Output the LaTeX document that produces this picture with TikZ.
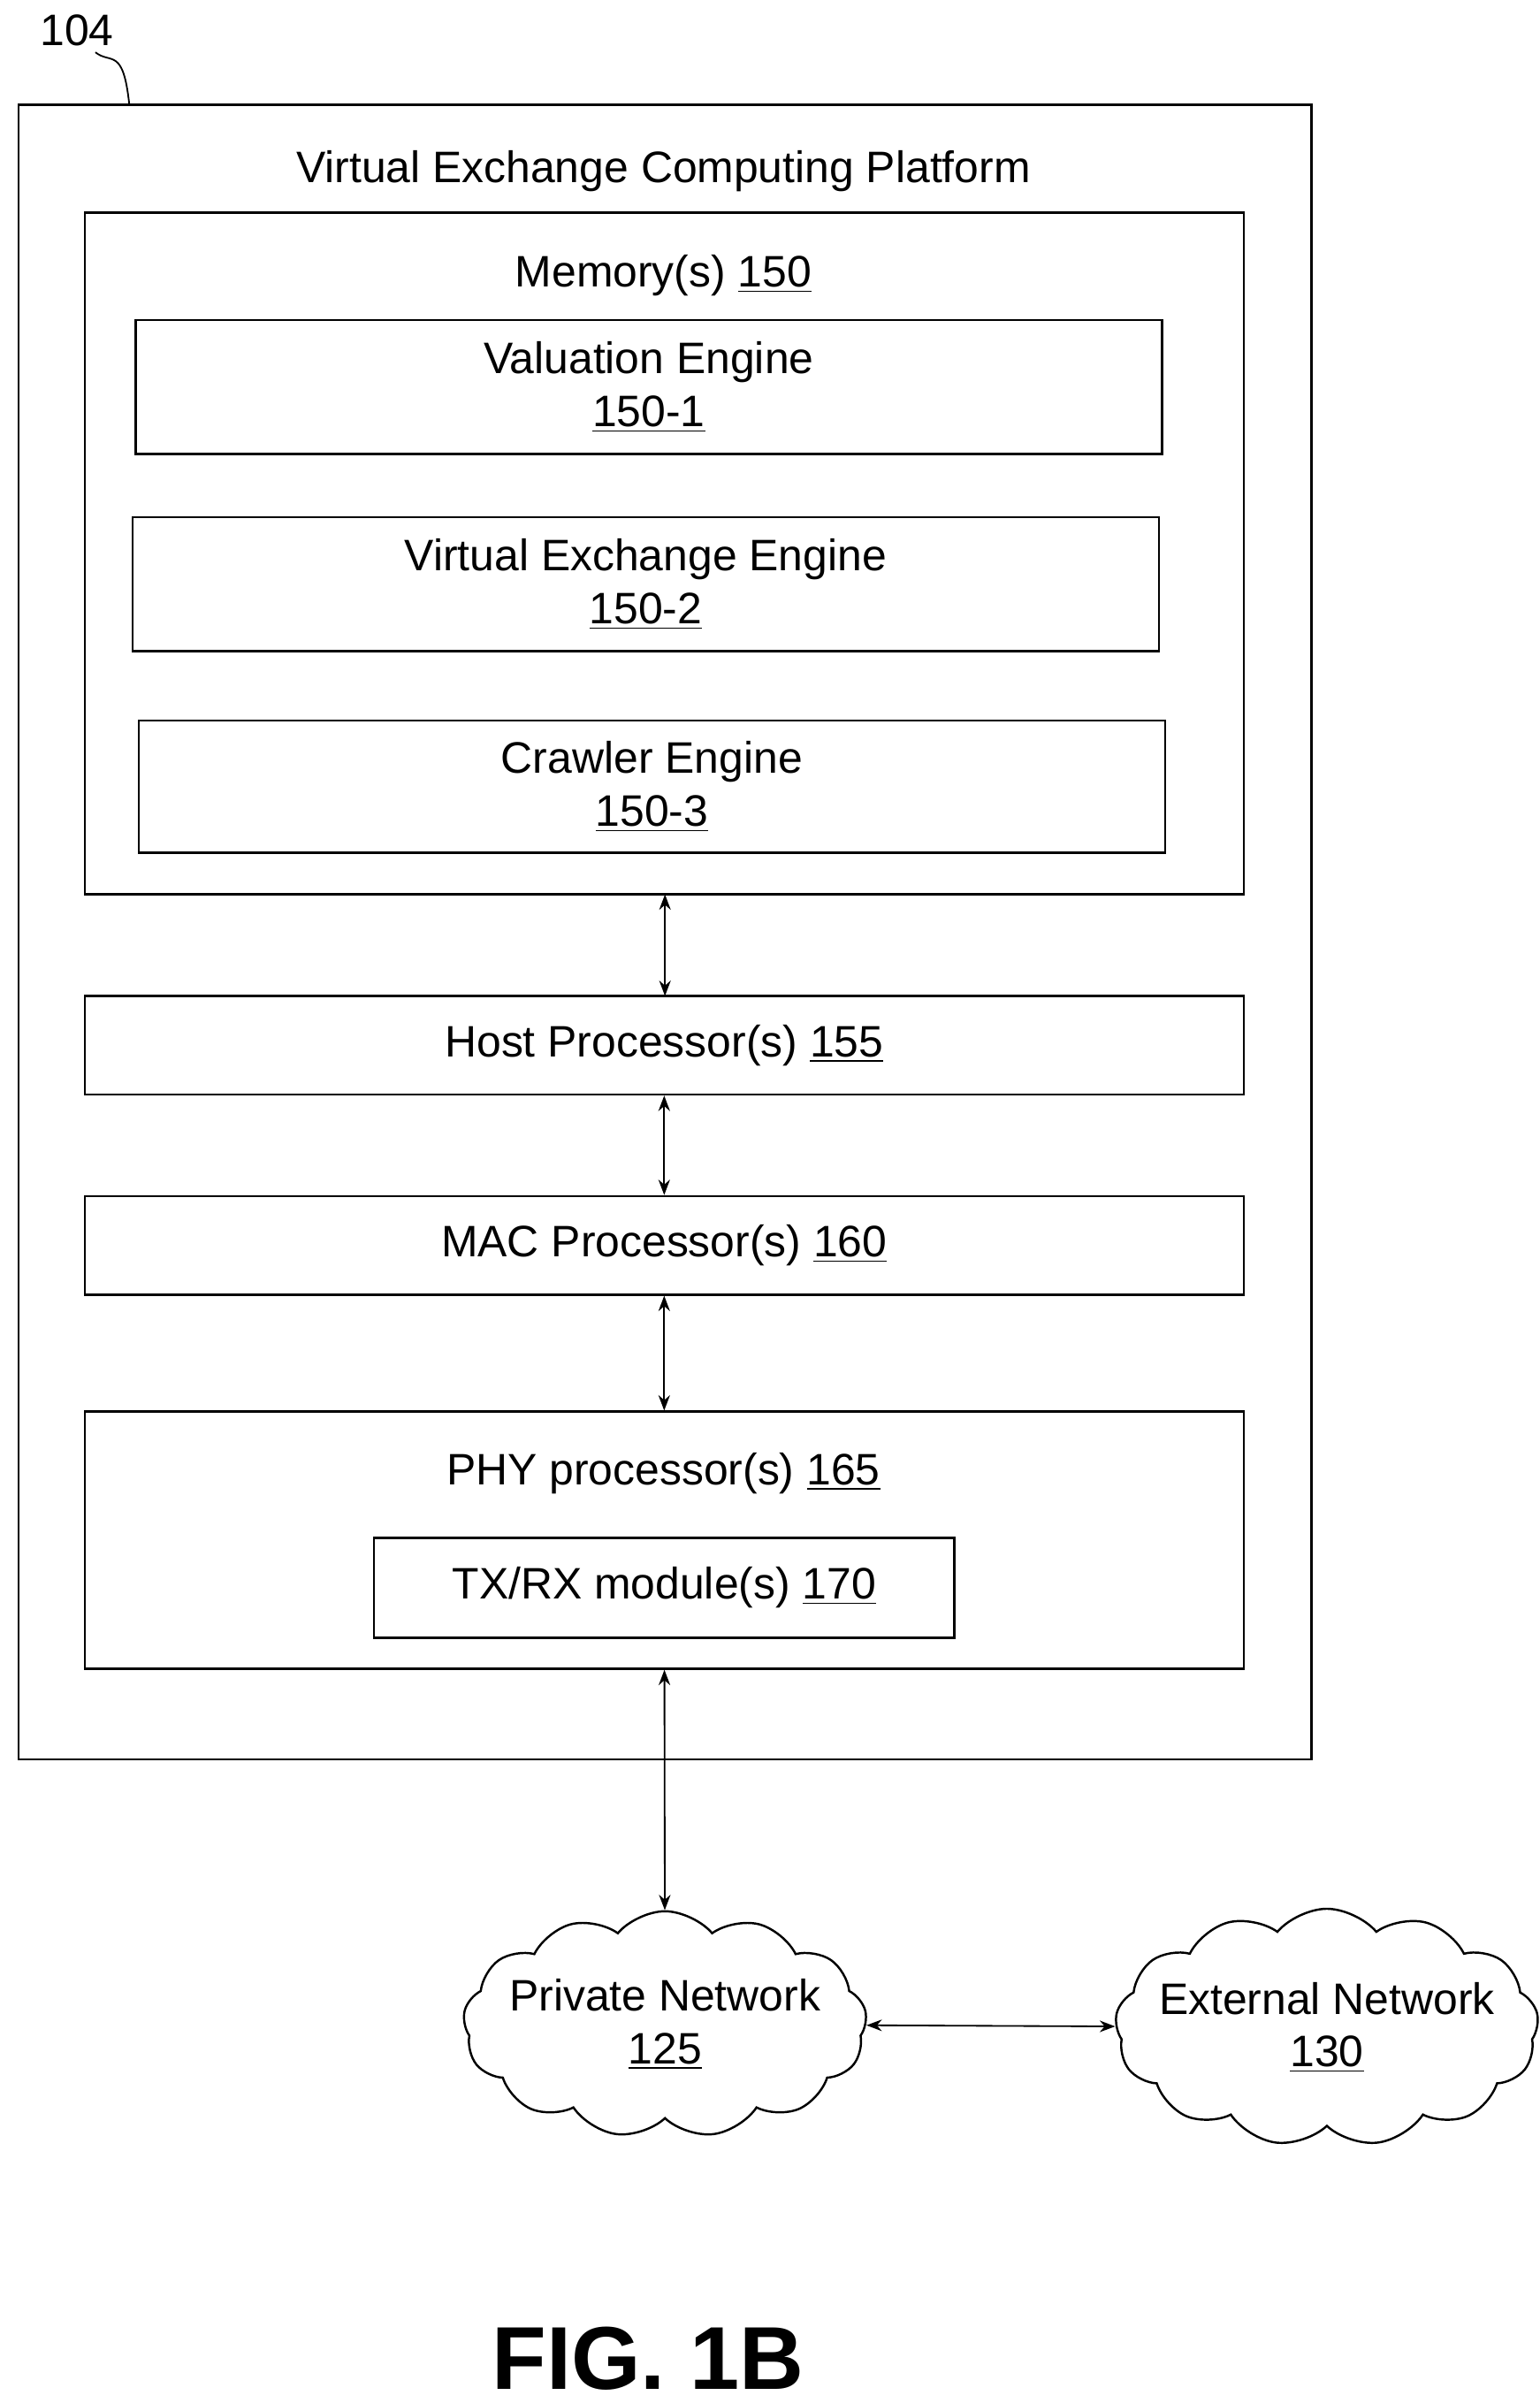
\documentclass[tikz,border=0pt]{standalone}
\usepackage{fontspec}
\setmainfont{Liberation Sans}
\usetikzlibrary{shapes, arrows.meta, positioning}

\begin{document}
\begin{tikzpicture}[x=0.02cm, y=-0.02cm, font=\fontsize{16.3}{19.5}\selectfont,
  box/.style={draw, line width=0.8pt},
  link/.style={<->, line width=0.6pt, >=Stealth},
  net/.style={cloud, cloud puffs=13, cloud puff arc=100, aspect=2.1, inner sep=-6pt, draw, line width=0.8pt, align=center}]

  \useasboundingbox (0,0) rectangle (1000,1561);

  % Platform frame
  \draw[box] (12,68) rectangle (852,1143);
  \node (ref) at (50,20) {104};
  \draw[line width=0.6pt] (62,34) .. controls (72,42) and (80,30) .. (84,68);
  \node (title) at (431,111) {Virtual Exchange Computing Platform};

  % Memory
  \node (mem) [box, minimum width=15.06cm, minimum height=8.86cm] at (431.5,359.5) {};
  \node at (431,179) {Memory(s) \underline{150}};
  \node (val) [box, align=center, minimum width=13.34cm, minimum height=1.74cm] at (421.5,251.5) {Valuation Engine\\\underline{150-1}};
  \node (vee) [box, align=center, minimum width=13.34cm, minimum height=1.74cm] at (419.5,379.5) {Virtual Exchange Engine\\\underline{150-2}};
  \node (crawl) [box, align=center, minimum width=13.34cm, minimum height=1.72cm] at (423.5,511) {Crawler Engine\\\underline{150-3}};

  % Processors
  \node (host) [box, minimum width=15.06cm, minimum height=1.28cm] at (431.5,679) {Host Processor(s) \underline{155}};
  \node (mac) [box, minimum width=15.06cm, minimum height=1.28cm] at (431.5,809) {MAC Processor(s) \underline{160}};
  \node (phy) [box, minimum width=15.06cm, minimum height=3.34cm] at (431.5,1000.5) {};
  \node at (431,957) {PHY processor(s) \underline{165}};
  \node (txrx) [box, minimum width=7.54cm, minimum height=1.3cm] at (431.5,1031.5) {TX/RX module(s) \underline{170}};

  % Networks
  \node (priv) [net] at (432,1315) {Private Network\\\underline{125}};
  \node (ext) [net, inner sep=-8pt] at (862,1317) {External Network\\\underline{130}};

  \draw[link] (432,581) -- (432,647);
  \draw[link] (host) -- (mac);
  \draw[link] (mac) -- (phy);
  \draw[link] (phy) -- (priv);
  \draw[link] (priv) -- (ext);

  \node (fig) at (421,1532) {\fontsize{33}{38}\selectfont\bfseries FIG. 1B};
\end{tikzpicture}
\end{document}
